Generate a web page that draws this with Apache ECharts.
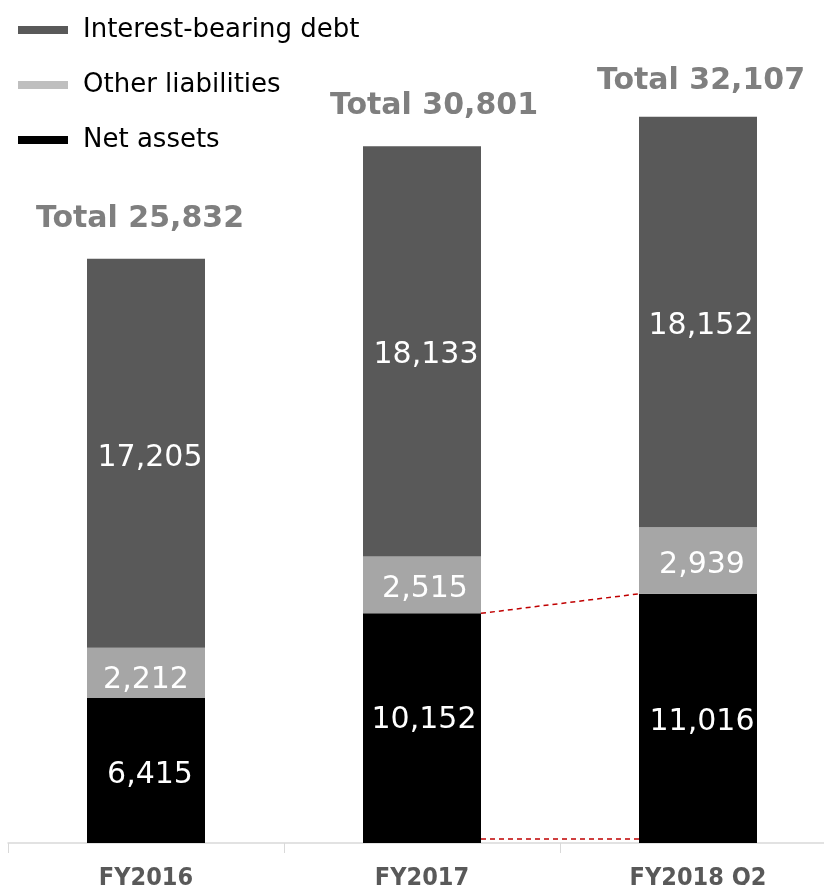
<!DOCTYPE html>
<html><head><meta charset="utf-8">
<script src="https://cdn.jsdelivr.net/npm/echarts@6/dist/echarts.min.js"></script>
<style>html,body{margin:0;padding:0;background:#fff}#c{width:824px;height:885px}</style>
</head><body><div id="c"></div>
<script>
var categories = ['FY2016', 'FY2017', 'FY2018 Q2'];
var netAssets = [6415, 10152, 11016];
var otherLiabilities = [2212, 2515, 2939];
var interestDebt = [17205, 18133, 18152];
var totals = [25832, 30801, 32107];
var seriesNames = ['Interest-bearing debt', 'Other liabilities', 'Net assets'];

var FONT = '"DejaVu Sans", sans-serif';
var BAR_W = 118;
function fmt(v) { return v.toLocaleString('en-US'); }

var chart = echarts.init(document.getElementById('c'));
var segLabel = { show: true, position: 'inside', color: '#fff', fontSize: 30, fontFamily: FONT, formatter: function (p) { return fmt(p.value); } };

var connectors = [
  [1, netAssets[1], 2, netAssets[2], 0],
  [1, 0, 2, 0, -4]
];

var netOffsets = [[4, 5], [2, -8], [4, 4]];
var otherOffsets = [[0, 7], [3, 4], [4, 5]];
var debtOffsets = [[4, 5], [4, 4], [3, 4]];
var totalOffsets = [[-6, 0], [12, -1], [3, 4]];

chart.setOption({
  animation: false,
  grid: { left: 8, top: 6, width: 828, height: 837, containLabel: false, outerBoundsMode: 'none' },
  legend: {
    orient: 'vertical', left: 13, top: 10, itemWidth: 50, itemHeight: 8, itemGap: 25, icon: 'rect',
    textStyle: { fontSize: 26, fontFamily: FONT, color: '#000', lineHeight: 30, padding: [0, 0, 0, 10] },
    data: [
      { name: seriesNames[0], itemStyle: { color: '#595959' } },
      { name: seriesNames[1], itemStyle: { color: '#bfbfbf' } },
      { name: seriesNames[2], itemStyle: { color: '#000000' } }
    ]
  },
  xAxis: {
    type: 'category', data: categories, boundaryGap: true,
    axisLine: { lineStyle: { color: '#d9d9d9', width: 1.5 } },
    axisTick: { show: true, length: 10, lineStyle: { color: '#d9d9d9' } },
    axisLabel: { fontSize: 25, fontWeight: 'bold', color: '#595959', fontFamily: '"DejaVu Sans Condensed", "DejaVu Sans", sans-serif', margin: 23 }
  },
  yAxis: { type: 'value', min: 0, max: 37000, show: false, splitLine: { show: false } },
  series: [
    { name: seriesNames[2], type: 'bar', stack: 's', barWidth: BAR_W, itemStyle: { color: '#000000' },
      data: netAssets.map(function (v, i) { return { value: v, label: { offset: netOffsets[i] } }; }),
      label: segLabel },
    { name: seriesNames[1], type: 'bar', stack: 's', barWidth: BAR_W, itemStyle: { color: '#a6a6a6' },
      data: otherLiabilities.map(function (v, i) { return { value: v, label: { offset: otherOffsets[i] } }; }), label: segLabel },
    { name: seriesNames[0], type: 'bar', stack: 's', barWidth: BAR_W, itemStyle: { color: '#595959' },
      data: interestDebt.map(function (v, i) { return { value: v, label: { offset: debtOffsets[i] } }; }), label: segLabel },
    { name: 'total', type: 'scatter', symbolSize: 0, silent: true, itemStyle: { opacity: 1 },
      data: totals.map(function (v, i) { return { value: [i, v], label: { offset: totalOffsets[i] } }; }),
      label: { show: true, position: 'top', distance: 24, fontSize: 30, fontWeight: 'bold', color: '#7f7f7f', fontFamily: FONT,
        formatter: function (p) { return 'Total ' + fmt(p.value[1]); } } },
    { name: 'conn', type: 'custom', silent: true, z: 5, data: connectors,
      renderItem: function (params, api) {
        var p1 = api.coord([api.value(0), api.value(1)]);
        var p2 = api.coord([api.value(2), api.value(3)]);
        var dy = api.value(4);
        return { type: 'line', shape: { x1: p1[0] + BAR_W / 2, y1: p1[1] + dy, x2: p2[0] - BAR_W / 2, y2: p2[1] + dy },
          style: { stroke: '#c00000', lineWidth: 1.5, lineDash: [5, 4] } };
      } }
  ]
});
</script></body></html>
